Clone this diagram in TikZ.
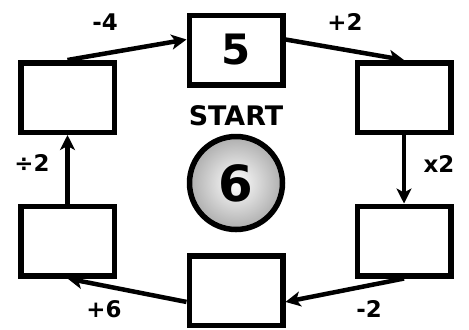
\documentclass[tikz,border=0pt]{standalone}
\usepackage{fontspec}
\setmainfont{DejaVu Sans}
\usetikzlibrary{arrows.meta, shapes.geometric}

\begin{document}
\begin{tikzpicture}[
    x=1bp, y=-1bp,
    numbox/.style={rectangle, draw=black, line width=5.5bp, fill=white, minimum width=93.5bp, minimum height=69.5bp, font=\bfseries\fontsize{42}{42}\selectfont},
    startball/.style={circle, draw=black, line width=5.5bp, minimum size=93bp, inner color=white, outer color=black!32, font=\bfseries\fontsize{50}{50}\selectfont},
    step arrow/.style={-{Stealth[length=15bp, width=15bp, inset=4bp]}, line width=4.5bp},
    oplabel/.style={font=\bfseries\fontsize{23}{23}\selectfont}
]
\useasboundingbox (0,0) rectangle (469,329);

% Boxes round the ring
\node[numbox] (boxTop) at (236, 50) {5};
\node[numbox] (boxTR) at (404, 97.5) {};
\node[numbox] (boxBR) at (404, 241) {};
\node[numbox] (boxBot) at (236, 290.5) {};
\node[numbox] (boxBL) at (67.5, 241) {};
\node[numbox] (boxTL) at (67.5, 97.5) {};

% Start in the middle
\node[font=\bfseries\fontsize{27}{27}\selectfont] (startText) at (236, 116) {START};
\node[startball] (startBall) at (236, 183) {6};

% Steps
\draw[step arrow] (boxTL.north) -- (boxTop.168);
\draw[step arrow] (boxTop.12) -- (boxTR.north);
\draw[step arrow] (boxTR.south) -- (boxBR.north);
\draw[step arrow] (boxBR.south) -- (boxBot.-13);
\draw[step arrow] (boxBot.193) -- (boxBL.south);
\draw[step arrow] (boxBL.north) -- (boxTL.south);

% Operations
\node[oplabel] (opA) at (105, 22) {-4};
\node[oplabel] (opB) at (345, 22) {+2};
\node[oplabel] (opC) at (439, 164) {x2};
\node[oplabel] (opD) at (369, 309) {-2};
\node[oplabel] (opE) at (104, 309) {+6};
\node[oplabel] (opF) at (32, 163) {÷2};
\end{tikzpicture}
\end{document}
